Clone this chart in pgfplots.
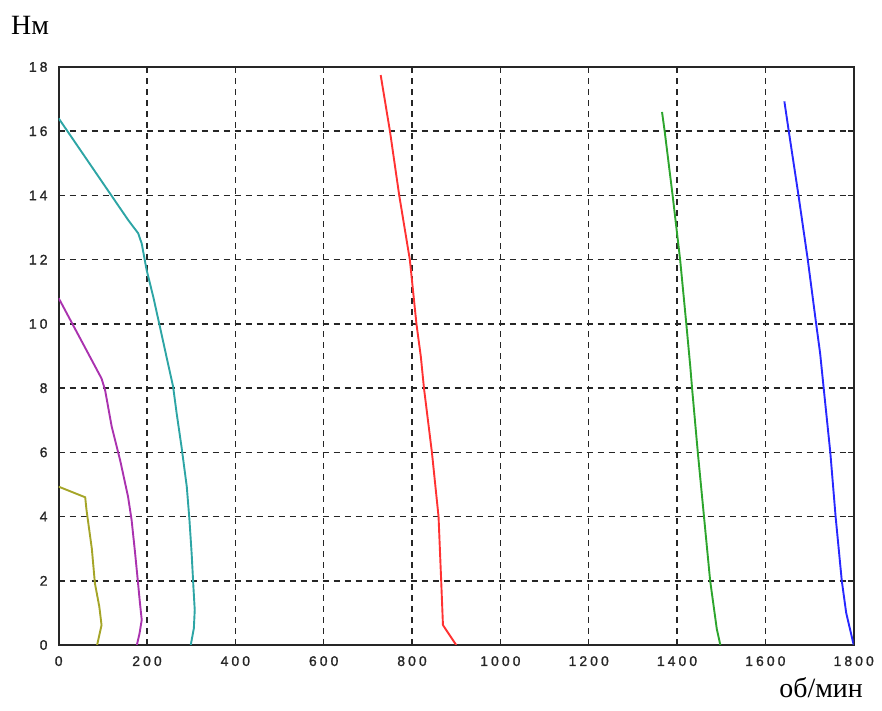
\documentclass[border=0pt]{standalone}
\usepackage{fontspec}
\setmainfont{Liberation Serif}
\newfontfamily\tickfont[LetterSpace=22,FakeBold=1.2]{Liberation Sans}
\usepackage{pgfplots}
\pgfplotsset{compat=1.18}
\definecolor{colO}{RGB}{165,165,40}
\definecolor{colM}{RGB}{170,50,175}
\definecolor{colT}{RGB}{45,165,165}
\definecolor{colR}{RGB}{255,50,50}
\definecolor{colG}{RGB}{45,165,45}
\definecolor{colB}{RGB}{40,40,255}
\begin{document}
\begin{tikzpicture}
\path[use as bounding box] (0,0) rectangle (882bp,711bp);
\begin{axis}[
  at={(58.7bp,66bp)}, anchor=south west,
  scale only axis, width=795bp, height=578bp,
  xmin=0, xmax=1800, ymin=0, ymax=18,
  xtick={0,200,...,1800}, ytick={0,2,...,18},
  grid=major,
  major grid style={black!85, line width=1.5bp, dash pattern=on 6bp off 5bp},
  axis line style={black!85, line width=1.8bp},
  tick style={black!85, line width=1.5bp},
  major tick length=6bp,
  tick align=inside,
  /pgf/number format/assume math mode=true,
  /pgf/number format/1000 sep={},
  ticklabel style={font=\tickfont\fontsize{14}{14}\selectfont, inner sep=0pt, text=black!85},
  xticklabel style={yshift=-11bp},
  yticklabel style={xshift=-11bp},
  every axis plot/.append style={line width=1.9bp, mark=none},
  clip=true,
]
\addplot[colO] coordinates {(0,4.93) (60,4.6) (63,4.2) (75,3.0) (82,1.92) (92,1.19) (97,0.62) (87,0)};
\addplot[colM] coordinates {(0,10.8) (97,8.3) (105,7.94) (120,6.8) (139,5.76) (157,4.62) (165,3.9) (173,2.86) (179,2.02) (184,1.3) (188,0.78) (183,0.36) (177,0)};
\addplot[colT] coordinates {(0,16.4) (157,13.24) (180,12.82) (188,12.5) (199,11.68) (214,10.85) (229,9.92) (244,8.98) (259,8.05) (267,7.22) (278,6.18) (290,4.93) (296,3.9) (301,2.85) (305,1.81) (308,1.09) (306,0.52) (299,0)};
\addplot[colR] coordinates {(729,17.75) (750,16) (771,14) (795,12) (810,10) (820,8.97) (827,8) (845,6) (860,4) (866,2) (870,0.62) (900,0)};
\addplot[colG] coordinates {(1366,16.6) (1372,16) (1390,14) (1407,12) (1421,10) (1430,8.67) (1434,8) (1447,6) (1461,4) (1475,2) (1490,0.5) (1498,0)};
\addplot[colB] coordinates {(1643,16.93) (1653,16) (1675,14) (1696,12) (1715,10) (1724,9.08) (1732,8) (1747,6) (1759,4) (1773,2) (1783,1) (1800,0)};
\end{axis}
\node[anchor=base west, inner sep=0pt, font=\fontsize{28}{30}\selectfont] at (11bp,676bp) {Нм};
\node[anchor=base east, inner sep=0pt, font=\fontsize{28}{30}\selectfont] at (863bp,14bp) {об/мин};
\end{tikzpicture}
\end{document}
